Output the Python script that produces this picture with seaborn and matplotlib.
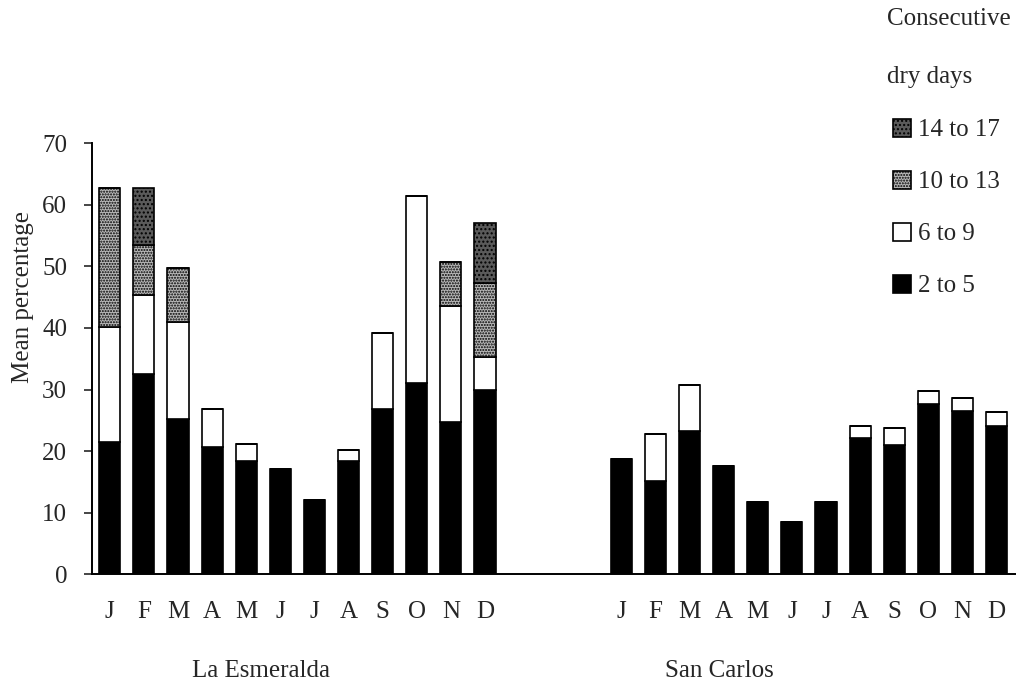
import numpy as np
import pandas as pd
import matplotlib
matplotlib.use("Agg")
import matplotlib.pyplot as plt
import seaborn as sns

# Month labels and bar positions (gap of three slots between stations)
months = ["J", "F", "M", "A", "M", "J", "J", "A", "S", "O", "N", "D"]
esm_pos = list(range(12))
sc_pos = list(range(15, 27))

# La Esmeralda, mean percentage per class of consecutive dry days
esm_2_5 = [21.4, 32.5, 25.2, 20.7, 18.4, 17.1, 12.1, 18.4, 26.9, 31.1, 24.8, 30.0]
esm_6_9 = [18.8, 12.9, 15.8, 6.1, 2.7, 0, 0, 1.8, 12.3, 30.4, 18.7, 5.3]
esm_10_13 = [22.5, 8.1, 8.7, 0, 0, 0, 0, 0, 0, 0, 7.2, 12.0]
esm_14_17 = [0, 9.2, 0, 0, 0, 0, 0, 0, 0, 0, 0, 9.7]

# San Carlos
sc_2_5 = [18.7, 15.2, 23.3, 17.6, 11.7, 8.5, 11.7, 22.2, 21.0, 27.6, 26.5, 24.1]
sc_6_9 = [0, 7.6, 7.5, 0, 0, 0, 0, 1.9, 2.7, 2.2, 2.1, 2.3]
sc_10_13 = [0] * 12
sc_14_17 = [0] * 12

classes = ["2 to 5", "6 to 9", "10 to 13", "14 to 17"]

# Build long table with stacking bottoms
rows = []
for pos, segs in [(esm_pos, [esm_2_5, esm_6_9, esm_10_13, esm_14_17]),
                  (sc_pos, [sc_2_5, sc_6_9, sc_10_13, sc_14_17])]:
    bottom = np.zeros(12)
    for cls, vals in zip(classes, segs):
        for i in range(12):
            rows.append({"pos": pos[i], "class": cls, "value": vals[i], "bottom": bottom[i]})
        bottom = bottom + np.array(vals)
df = pd.DataFrame(rows)

sns.set_theme(style="white")
plt.rcParams["font.family"] = ["Liberation Serif", "DejaVu Serif"]
plt.rcParams["hatch.linewidth"] = 1.0

styles = {
    "2 to 5": dict(color="black", hatch=None),
    "6 to 9": dict(color="white", hatch=None),
    "10 to 13": dict(color="#b8b8b8", hatch="......"),
    "14 to 17": dict(color="#5a5a5a", hatch="...."),
}

fig = plt.figure(figsize=(10.16, 6.82), dpi=100)
ax = fig.add_axes([0.0906, 0.158, 0.9094, 0.632])

for cls in classes:
    sub = df[df["class"] == cls].sort_values("pos")
    st = styles[cls]
    kws = dict(edgecolor="black", linewidth=1.2, bottom=sub["bottom"].to_numpy(), label=cls)
    if st["hatch"]:
        kws["hatch"] = st["hatch"]
    sns.barplot(data=sub, x="pos", y="value", native_scale=True, orient="x",
                color=st["color"], saturation=1, width=0.62, errorbar=None,
                legend=False, ax=ax, **kws)
if ax.get_legend() is not None:
    ax.get_legend().remove()

ax.set_xlim(-0.52, 26.57)
ax.set_ylim(0, 70)
ax.set_yticks(range(0, 71, 10))
ax.set_xticks(esm_pos + sc_pos, months + months)
ax.set_xlabel("")
ax.set_ylabel("")
ax.tick_params(axis="x", length=0, pad=19, labelsize=18)
ax.tick_params(axis="y", direction="out", length=6, width=1.2, pad=12, labelsize=18, left=True)
for side in ["top", "right"]:
    ax.spines[side].set_visible(False)
for side in ["left", "bottom"]:
    ax.spines[side].set_color("black")
    ax.spines[side].set_linewidth(1.4)

ax.text(4.42, -0.225, "La Esmeralda", transform=ax.get_xaxis_transform(),
        ha="center", va="center", fontsize=18)
ax.text(17.87, -0.225, "San Carlos", transform=ax.get_xaxis_transform(),
        ha="center", va="center", fontsize=18)

fig.text(23 / 1016, 1 - 297 / 682, "Mean percentage", rotation=90,
         ha="center", va="center", fontsize=18)

# legend with title written as separate lines
fig.text(887 / 1016, 1 - 19 / 682, "Consecutive", ha="left", va="center", fontsize=18)
fig.text(887 / 1016, 1 - 77 / 682, "dry days", ha="left", va="center", fontsize=18)
handles = ax.containers[::-1]
fig.legend(handles=handles, labels=classes[::-1], loc="upper left",
           bbox_to_anchor=(893 / 1016, 1 - 119 / 682), frameon=False,
           borderpad=0, borderaxespad=0, fontsize=18, handlelength=0.7,
           handleheight=0.7, handletextpad=0.32, labelspacing=1.18)

fig.savefig("out.png", dpi=100)
